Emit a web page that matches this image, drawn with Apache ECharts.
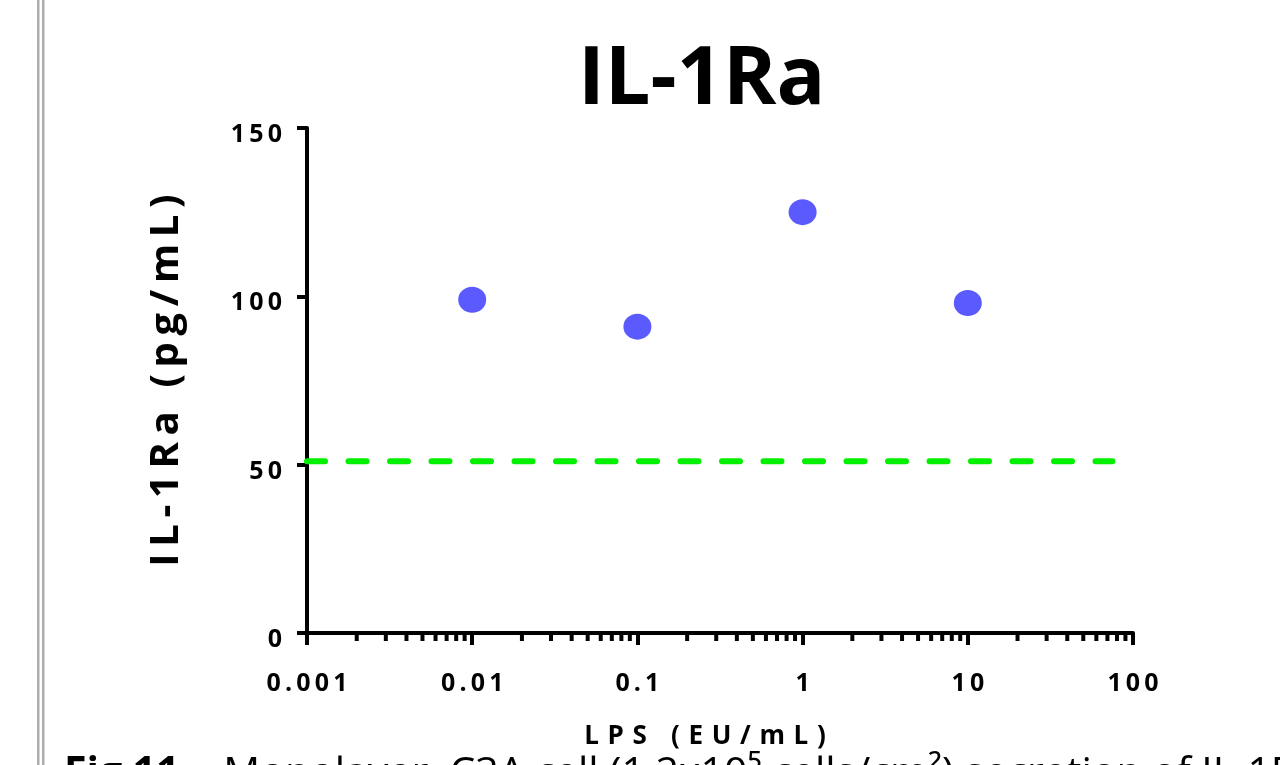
<!DOCTYPE html>
<html>
<head>
<meta charset="utf-8">
<title>IL-1Ra</title>
<script src="https://cdn.jsdelivr.net/npm/echarts@6/dist/echarts.min.js"></script>
<style>
  html, body { margin: 0; padding: 0; background: #fff; }
  #chart { width: 1280px; height: 765px; }
</style>
</head>
<body>
<div id="chart"></div>
<script>
// LPS doses (EU/mL) and measured IL-1Ra (pg/mL)
const lpsDose = [0.01, 0.1, 1, 10];
const il1raLevel = [99, 91, 125, 98];

// Baseline (untreated) level shown as a dashed reference line
const baselineLevel = 51;
const baselineRange = [0.001, 75];

// Axis tick labels
const xTickLabels = ['0.001', '0.01', '0.1', '1', '10', '100'];
const yTickLabels = ['0', '50', '100', '150'];

const FONT = '"Open Sans", Lato, sans-serif';
const THIN = '\u2009'; // letter spacing helper

function spaced(s, sep) {
  return s.split('').join(sep || THIN);
}

// minor ticks at 2..9 within each decade of the log axis
const minorTicks = [];
[0.001, 0.01, 0.1, 1, 10].forEach(function (d) {
  for (let k = 2; k <= 9; k++) minorTicks.push(+(d * k).toPrecision(3));
});

const chart = echarts.init(document.getElementById('chart'), null, { renderer: 'canvas' });

chart.setOption({
  backgroundColor: '#ffffff',
  animation: false,
  title: {
    text: 'IL-1Ra',
    left: 578,
    top: 40,
    padding: 0,
    textStyle: { fontFamily: FONT, fontWeight: 'bold', fontSize: 81, color: '#000' }
  },
  grid: { left: 307, right: 147, top: 128, bottom: 132, containLabel: false },
  xAxis: {
    type: 'log',
    logBase: 10,
    min: 0.001,
    max: 100,
    name: spaced('LPS (EU/mL)', '\u2004'),
    nameLocation: 'middle',
    nameGap: 91,
    nameTextStyle: { fontFamily: FONT, fontWeight: 'bold', fontSize: 26, color: '#000', padding: [0, 30, 0, 0] },
    axisLine: { show: true, onZero: false, lineStyle: { color: '#000', width: 4 } },
    axisTick: { show: true, inside: false, length: 12, lineStyle: { color: '#000', width: 4 } },
    minorTick: { show: false },
    splitLine: { show: false },
    axisLabel: {
      margin: 38,
      fontFamily: FONT, fontWeight: 'bold', fontSize: 25, color: '#000',
      formatter: function (v) {
        const idx = Math.round(Math.log10(v)) + 3;
        return spaced(xTickLabels[idx] || String(v));
      }
    }
  },
  yAxis: {
    type: 'value',
    min: 0,
    max: 150,
    interval: 50,
    name: spaced('IL-1Ra') + THIN + ' ' + THIN + spaced('(pg/mL)'),
    nameLocation: 'middle',
    nameGap: 120,
    nameTextStyle: { fontFamily: FONT, fontWeight: 'bold', fontSize: 40, color: '#000' },
    axisLine: { show: true, lineStyle: { color: '#000', width: 4 } },
    axisTick: { show: true, inside: false, length: 10, lineStyle: { color: '#000', width: 4 } },
    splitLine: { show: false },
    axisLabel: {
      margin: 25,
      formatter: function (v) {
        const idx = Math.round(v / 50);
        return '{v|' + spaced(yTickLabels[idx] || String(v)) + '}';
      },
      rich: {
        v: { fontFamily: FONT, fontWeight: 'bold', fontSize: 25, color: '#000', padding: [14, 0, 0, 0] }
      }
    }
  },
  series: [
    {
      name: 'minor ticks',
      type: 'custom',
      silent: true,
      clip: false,
      z: 1,
      data: minorTicks.map(function (v) { return [v, 0]; }),
      renderItem: function (params, api) {
        const p = api.coord([api.value(0), 0]);
        return {
          type: 'line',
          shape: { x1: p[0], y1: p[1], x2: p[0], y2: p[1] + 8 },
          style: { stroke: '#000', lineWidth: 4 }
        };
      }
    },
    {
      name: 'Baseline',
      type: 'line',
      data: baselineRange.map(function (x) { return [x, baselineLevel]; }),
      symbol: 'none',
      z: 2,
      lineStyle: { color: '#00f000', width: 6, type: [18, 23.5], cap: 'round' }
    },
    {
      name: 'IL-1Ra',
      type: 'scatter',
      data: lpsDose.map(function (x, i) { return [x, il1raLevel[i]]; }),
      symbol: 'circle',
      symbolSize: [28, 26],
      z: 3,
      itemStyle: { color: '#5a5aff', opacity: 1 }
    }
  ],
  graphic: [
    { type: 'rect', shape: { x: 37, y: 0, width: 2.5, height: 765 }, style: { fill: '#adadad' } },
    { type: 'rect', shape: { x: 42, y: 0, width: 2.5, height: 765 }, style: { fill: '#adadad' } },
    {
      type: 'text',
      x: 64,
      y: 754,
      style: {
        text: '{b|Fig 11.}   Monolayer  C3A cell (1.2x10\u2075 cells/cm\u00b2) secretion of IL-1Ra',
        fontFamily: FONT,
        fontSize: 41,
        fill: '#000',
        textVerticalAlign: 'top',
        rich: { b: { fontFamily: FONT, fontWeight: 'bold', fontSize: 41, fill: '#000' } }
      }
    }
  ]
});
</script>
</body>
</html>
